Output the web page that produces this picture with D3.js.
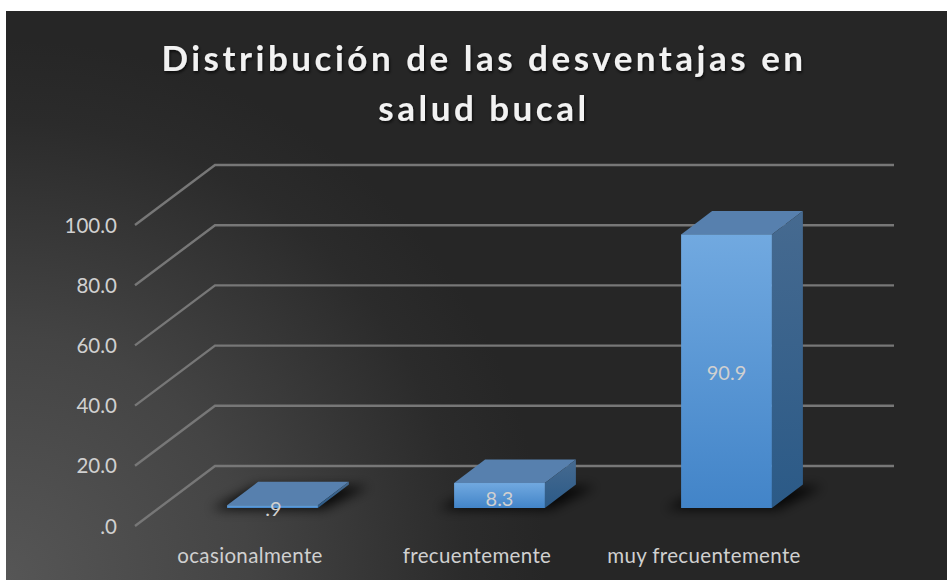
<!DOCTYPE html>
<html><head><meta charset="utf-8">
<script src="https://cdnjs.cloudflare.com/ajax/libs/d3/7.9.0/d3.min.js"></script>
<style>html,body{margin:0;padding:0;background:#fff;overflow:hidden}svg{display:block}text{font-family:Lato,"Open Sans",sans-serif}</style>
</head><body><div id="c"></div>
<script>
const categories = ["ocasionalmente","frecuentemente","muy frecuentemente"];
const values = [0.9, 8.3, 90.9];
const valueLabels = [".9","8.3","90.9"];
const axisTicks = [0,20,40,60,80,100];
const tickLabels = [".0","20.0","40.0","60.0","80.0","100.0"];
const titleLines = ["Distribución de las desventajas en","salud bucal"];

const W=947,H=580;
const svg=d3.select("#c").append("svg").attr("width",W).attr("height",H);
const defs=svg.append("defs");
const bgG=defs.append("radialGradient").attr("id","bg").attr("gradientUnits","userSpaceOnUse")
  .attr("cx",6).attr("cy",580).attr("r",540);
[[0,"#565656"],[0.45,"#444444"],[0.85,"#2b2b2b"],[1,"#262626"]].forEach(s=>bgG.append("stop").attr("offset",s[0]).attr("stop-color",s[1]));
const fg=defs.append("linearGradient").attr("id","front").attr("x1",0).attr("y1",0).attr("x2",0).attr("y2",1);
fg.append("stop").attr("offset",0).attr("stop-color","#71a9e0");
fg.append("stop").attr("offset",1).attr("stop-color","#4284c8");
const sg=defs.append("linearGradient").attr("id","side").attr("x1",0).attr("y1",0).attr("x2",0).attr("y2",1);
sg.append("stop").attr("offset",0).attr("stop-color","#466a90");
sg.append("stop").attr("offset",1).attr("stop-color","#2b5a87");
defs.append("filter").attr("id","blur").attr("x","-30%").attr("y","-100%").attr("width","160%").attr("height","300%")
  .append("feGaussianBlur").attr("stdDeviation",6);
const ts=defs.append("filter").attr("id","tshadow").attr("x","-5%").attr("y","-20%").attr("width","110%").attr("height","140%");
ts.append("feDropShadow").attr("dx",1).attr("dy",2).attr("stdDeviation",1.5).attr("flood-color","#000").attr("flood-opacity",.7);

svg.append("rect").attr("x",6).attr("y",11).attr("width",W-6).attr("height",H-11).attr("fill","url(#bg)");

const title=svg.append("g").attr("filter","url(#tshadow)");
title.selectAll("text").data(titleLines).join("text")
  .attr("x",484).attr("y",(d,i)=>71+i*50).attr("text-anchor","middle")
  .attr("font-size",35).attr("font-weight",700).attr("letter-spacing",3.5).attr("fill","#f2f2f2").text(d=>d);

const baseY=508, dx=31, dy=23.5;
const floorFrontY=526, floorBackY=466, gridL=135, gridM=215, gridR=894;
const yGrid=d3.scaleLinear().domain([0,100]).range([0,-301]);
const yBar=d3.scaleLinear().domain([0,100]).range([baseY,baseY-301]);
const x=d3.scaleBand().domain(categories).range([159,840]).paddingInner(.6).paddingOuter(.3);

const grid=svg.append("g").attr("fill","none").attr("stroke","#777").attr("stroke-width",2.4);
grid.selectAll("path").data(axisTicks).join("path")
  .attr("d",d=>{const o=yGrid(d);return d3.line()([[gridL,floorFrontY+o],[gridM,floorBackY+o],[gridR,floorBackY+o]]);});

svg.append("g").selectAll("text").data(axisTicks).join("text")
  .attr("x",117).attr("y",d=>floorFrontY+yGrid(d)+7.5).attr("text-anchor","end")
  .attr("font-size",20.5).attr("fill","#d0d0d0").text((d,i)=>tickLabels[i]);

svg.append("g").selectAll("path").data(categories).join("path")
  .attr("filter","url(#blur)").attr("fill","#000").attr("fill-opacity",.85)
  .attr("d",c=>{const l=x(c)-16,r=x(c)+x.bandwidth()+6;
    return d3.line()([[l,baseY+1],[r,baseY+1],[r+dx+14,baseY-dy+2],[l+dx+14,baseY-dy+2]])+"Z";});

const bars=svg.append("g").selectAll("g").data(values).join("g");
bars.append("path").attr("fill","#5780ae").attr("d",(v,i)=>{
  const l=x(categories[i]),r=l+x.bandwidth(),t=yBar(v);
  return d3.line()([[l,t],[l+dx,t-dy],[r+dx,t-dy],[r,t]])+"Z";});
bars.append("path").attr("fill","url(#side)").attr("d",(v,i)=>{
  const r=x(categories[i])+x.bandwidth(),t=yBar(v);
  return d3.line()([[r,t],[r+dx,t-dy],[r+dx,baseY-dy],[r,baseY]])+"Z";});
bars.append("rect").attr("fill","url(#front)")
  .attr("x",(v,i)=>x(categories[i])).attr("width",x.bandwidth())
  .attr("y",v=>yBar(v)).attr("height",v=>baseY-yBar(v));

svg.append("g").selectAll("text").data(values).join("text")
  .attr("x",(v,i)=>x(categories[i])+x.bandwidth()/2+(i==0?1:0))
  .attr("y",(v,i)=>i==2?380:(i==1?506:516))
  .attr("text-anchor","middle").attr("font-size",20).attr("fill","#d0d0d0")
  .text((v,i)=>valueLabels[i]);

svg.append("g").selectAll("text").data(categories).join("text")
  .attr("x",c=>x(c)+x.bandwidth()/2-22.5).attr("y",563).attr("text-anchor","middle")
  .attr("font-size",20.5).attr("letter-spacing",.35).attr("fill","#d0d0d0").text(c=>c);
</script></body></html>
